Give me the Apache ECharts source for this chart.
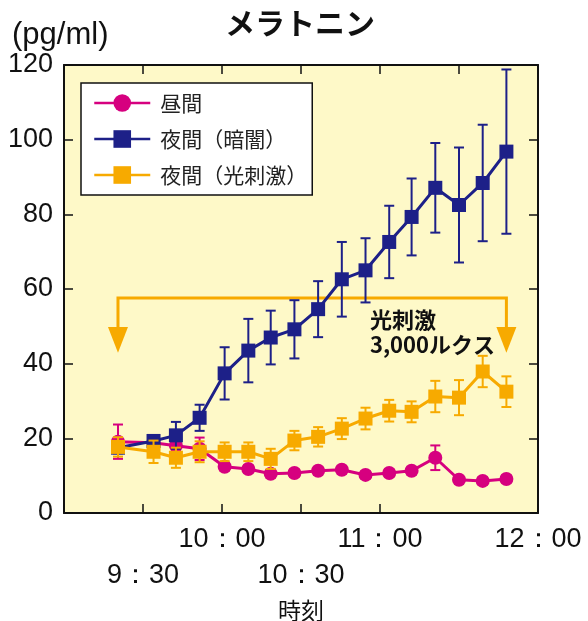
<!DOCTYPE html>
<html><head><meta charset="utf-8">
<script src="https://cdn.jsdelivr.net/npm/echarts@6/dist/echarts.min.js"></script>
<style>html,body{margin:0;padding:0;background:#fff}#c{width:588px;height:621px}</style>
</head><body><div id="c"></div>
<script>
// minutes after 9:00
const times = [20.5, 34, 42.5, 51.5, 61, 70, 78.5, 87.5, 96.5, 105.5, 114.5, 123.5, 132, 141, 150, 159, 168];
const tickLabels = {30:'9：30', 60:'10：00', 90:'10：30', 120:'11：00', 150:'11：30', 180:'12：00'};
const yTicks = [0, 20, 40, 60, 80, 100, 120];
const seriesNames = ['昼間', '夜間（暗闇）', '夜間（光刺激）'];
const dayMean = [19.1, 18.8, 18.0, 17.2, 12.4, 11.8, 10.5, 10.7, 11.3, 11.6, 10.2, 10.7, 11.3, 14.8, 8.9, 8.6, 9.1];
const dayErr  = [4.6, 1.5, 1.5, 3.0, 1, 1, 1, 1, 1, 1, 1, 1, 1, 3.3, 1, 1, 1];
const darkMean = [17.5, 19.3, 20.8, 25.5, 37.4, 43.5, 47.0, 49.2, 54.6, 62.6, 65.0, 72.6, 79.3, 87.1, 82.5, 88.4, 96.8];
const darkErr  = [1.5, 1.5, 3.6, 3.5, 7, 8.5, 7.2, 7.8, 7.5, 10, 8.6, 9.7, 10.3, 12, 15.4, 15.6, 22];
const lightMean = [17.7, 16.4, 14.8, 16.4, 16.4, 16.4, 14.5, 19.4, 20.4, 22.6, 25.3, 27.4, 27.1, 31.2, 30.9, 37.9, 32.5];
const lightErr  = [2.6, 3, 2.7, 2.8, 2.5, 2.5, 2.7, 2.6, 2.6, 2.8, 2.9, 2.9, 2.8, 4.2, 4.7, 4.2, 4.1];
// light stimulus bracket (data units)
const stimStart = times[0], stimEnd = times[16];
const stimLevel = 57.6, arrowTop = 49.8, arrowTip = 42.9;
const stimText = ['光刺激', '3,000ルクス'];
const stimTextPos = [116.2, 51.7];

const PINK = '#D6007F', NAVY = '#1D2088', ORANGE = '#F7AA00';
const chart = echarts.init(document.getElementById('c'));

function errSeries(mean, err, color, z) {
  return {
    type: 'custom', z: z, silent: true,
    data: times.map((t, i) => [t, mean[i] - err[i], mean[i] + err[i]]),
    encode: {x: 0, y: [1, 2]},
    renderItem(params, api) {
      const lo = api.coord([api.value(0), api.value(1)]);
      const hi = api.coord([api.value(0), api.value(2)]);
      const w = 5, st = {stroke: color, lineWidth: 2};
      return {type: 'group', children: [
        {type: 'line', shape: {x1: lo[0], y1: lo[1], x2: hi[0], y2: hi[1]}, style: st},
        {type: 'line', shape: {x1: lo[0] - w, y1: lo[1], x2: lo[0] + w, y2: lo[1]}, style: st},
        {type: 'line', shape: {x1: hi[0] - w, y1: hi[1], x2: hi[0] + w, y2: hi[1]}, style: st}
      ]};
    }
  };
}
function lineSeries(name, mean, color, symbol, z) {
  return {
    name: name, type: 'line', z: z,
    data: times.map((t, i) => [t, mean[i]]),
    symbol: symbol, symbolSize: 14,
    itemStyle: {color: color},
    lineStyle: {color: color, width: 3},
    emphasis: {disabled: true}
  };
}
function axisParts() {
  return {
    axisLine: {show: true, onZero: false, lineStyle: {color: '#111', width: 2}},
    axisTick: {show: true, inside: true, length: 9, lineStyle: {color: '#111', width: 1.5}},
    splitLine: {show: false}
  };
}
chart.setOption({
  animation: false,
  grid: {left: 64, right: 50, top: 65, bottom: 108, show: true, backgroundColor: '#FEF9C8', borderWidth: 0,
         containLabel: false, outerBoundsMode: 'none'},
  graphic: [
    {type: 'text', x: 300, y: 23, style: {text: 'メラトニン', font: 'bold 30px "Noto Sans CJK JP"', fill: '#111', textAlign: 'center', textVerticalAlign: 'middle', verticalAlign: 'middle'}},
    {type: 'text', x: 12, y: 35, style: {text: '(pg/ml)', font: '31px "Liberation Sans"', fill: '#111', textAlign: 'left', textVerticalAlign: 'middle', verticalAlign: 'middle'}}
  ],
  legend: {
    orient: 'vertical', left: 81, top: 83, data: seriesNames,
    backgroundColor: '#fff', borderColor: '#111', borderWidth: 1.5, borderRadius: 0,
    padding: [9, 5, 9, 12], itemWidth: 56, itemHeight: 22, itemGap: 14,
    lineStyle: {width: 2.5},
    textStyle: {fontSize: 21, fontFamily: 'Noto Sans CJK JP', color: '#222', lineHeight: 22, padding: [0, 0, 0, 5]}
  },
  xAxis: [
    Object.assign(axisParts(), {
      type: 'value', min: 0, max: 180, interval: 30, position: 'bottom',
      name: '時刻', nameLocation: 'middle', nameGap: 73,
      nameTextStyle: {fontSize: 23, fontFamily: 'Noto Sans CJK JP', color: '#111'},
      axisLabel: {
        show: true, margin: 9, showMaxLabel: true, showMinLabel: true,
        fontSize: 27, fontFamily: 'Liberation Sans', color: '#111', lineHeight: 36,
        formatter: v => { const s = tickLabels[v]; if (!s) return ''; return (v % 60 === 0) ? s : '\n' + s; }
      }
    }),
    Object.assign(axisParts(), {type: 'value', min: 0, max: 180, interval: 30, position: 'top', axisLabel: {show: false}})
  ],
  yAxis: [
    Object.assign(axisParts(), {
      type: 'value', min: yTicks[0], max: yTicks[yTicks.length - 1], interval: 20, position: 'left',
      axisLabel: {show: true, margin: 11, fontSize: 27, fontFamily: 'Liberation Sans', color: '#111'}
    }),
    Object.assign(axisParts(), {type: 'value', min: 0, max: 120, interval: 20, position: 'right', axisLabel: {show: false}})
  ],
  series: [
    {
      type: 'custom', z: 1, silent: true, data: [[stimStart, stimLevel]],
      renderItem(params, api) {
        const a = api.coord([stimStart, stimLevel]);
        const b = api.coord([stimEnd, stimLevel]);
        const t = api.coord([stimStart, arrowTop])[1];
        const tip = api.coord([stimStart, arrowTip])[1];
        const tp = api.coord(stimTextPos);
        const hw = 10;
        return {type: 'group', children: [
          {type: 'polyline', shape: {points: [[a[0], t], a, b, [b[0], t]]}, style: {stroke: ORANGE, lineWidth: 3, fill: null}},
          {type: 'polygon', shape: {points: [[a[0] - hw, t], [a[0] + hw, t], [a[0], tip]]}, style: {fill: ORANGE}},
          {type: 'polygon', shape: {points: [[b[0] - hw, t], [b[0] + hw, t], [b[0], tip]]}, style: {fill: ORANGE}},
          {type: 'text', x: tp[0], y: tp[1], style: {text: stimText[0], font: 'bold 22px "Noto Sans CJK JP"', fill: '#111', textAlign: 'left', textVerticalAlign: 'middle', verticalAlign: 'middle'}},
          {type: 'text', x: tp[0], y: tp[1] + 25, style: {text: stimText[1], font: 'bold 22px "Noto Sans CJK JP"', fill: '#111', textAlign: 'left', textVerticalAlign: 'middle', verticalAlign: 'middle'}}
        ]};
      }
    },
    errSeries(dayMean, dayErr, PINK, 2),
    lineSeries(seriesNames[0], dayMean, PINK, 'circle', 3),
    errSeries(darkMean, darkErr, NAVY, 4),
    lineSeries(seriesNames[1], darkMean, NAVY, 'rect', 5),
    errSeries(lightMean, lightErr, ORANGE, 6),
    lineSeries(seriesNames[2], lightMean, ORANGE, 'rect', 7)
  ]
});
</script></body></html>
